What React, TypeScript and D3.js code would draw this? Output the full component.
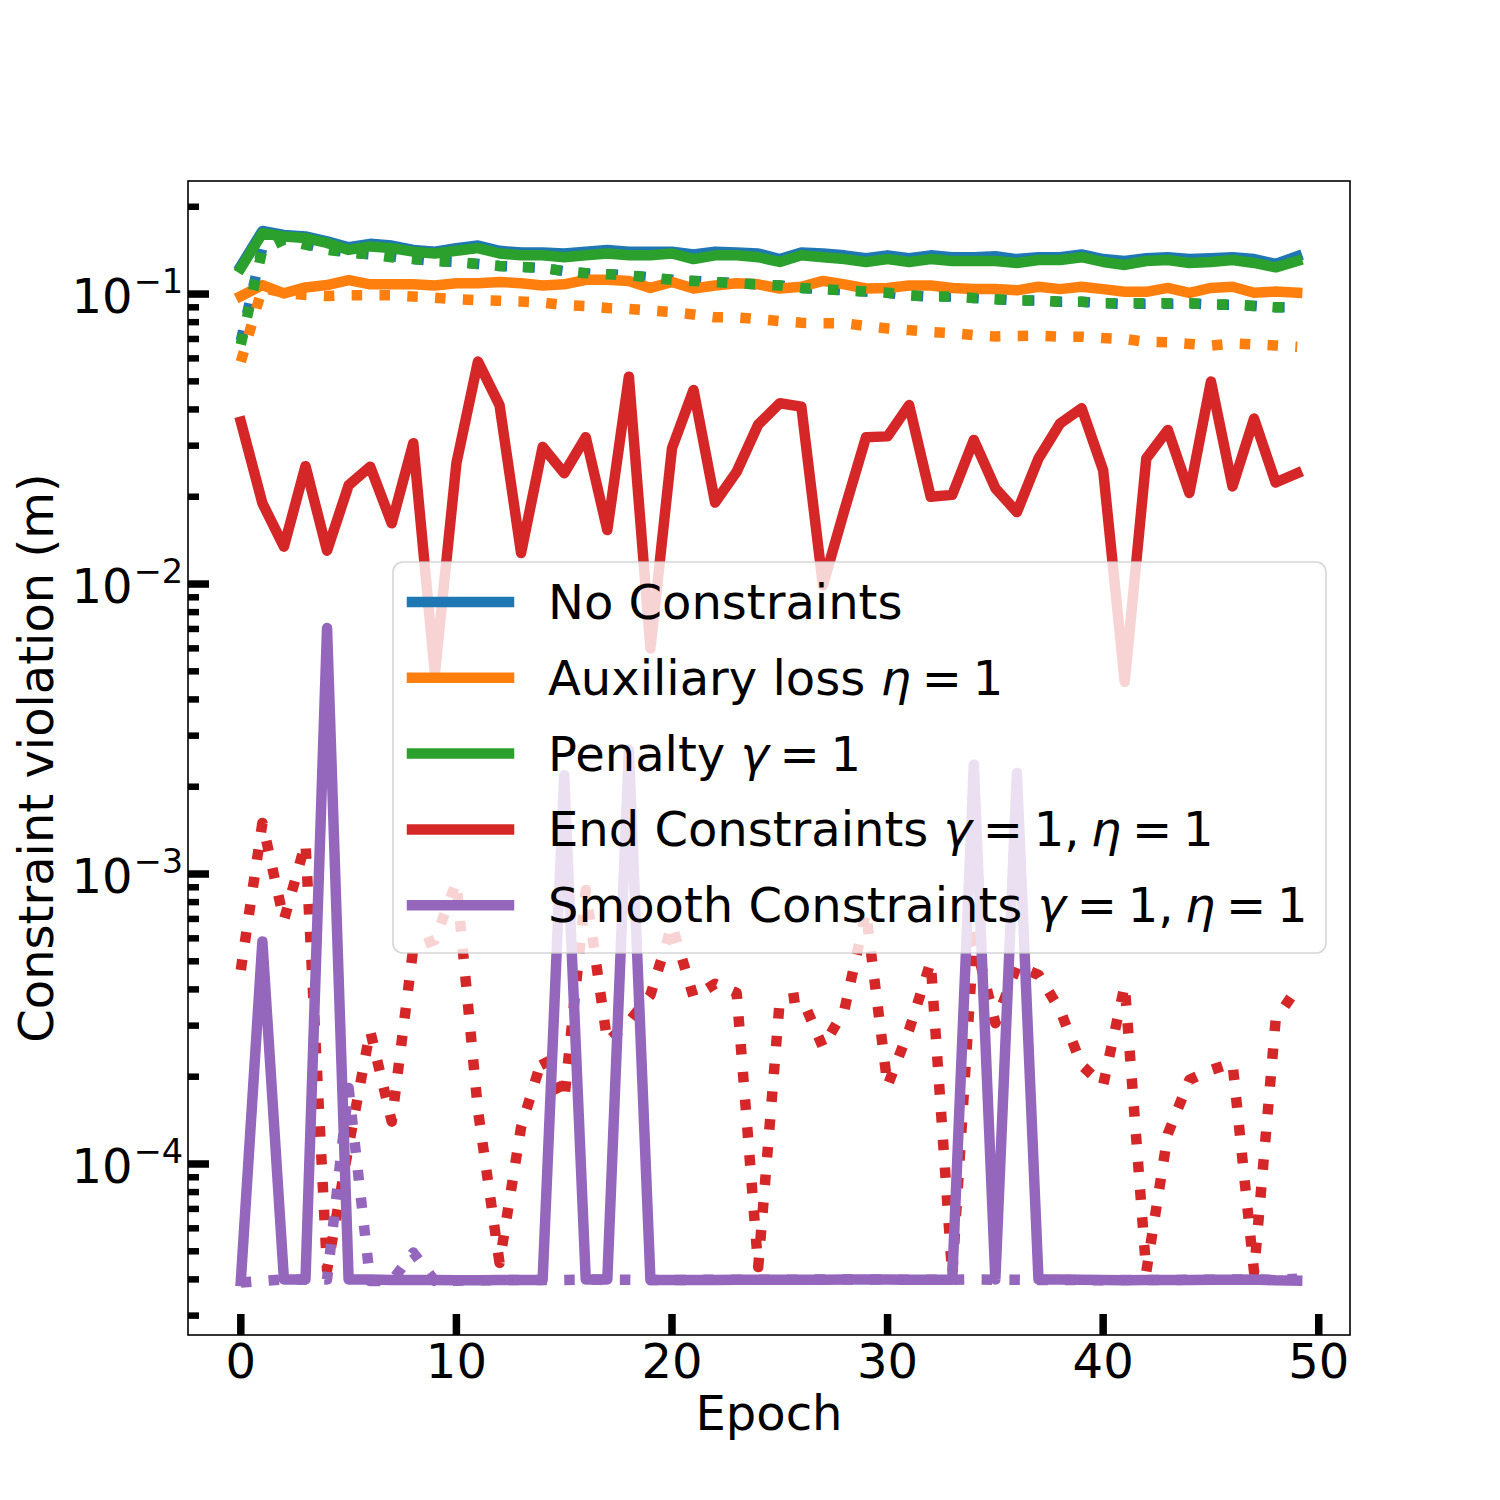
import React from 'react';
import * as d3 from 'd3';

// ---------- data ----------
const epochs: number[] = Array.from({ length: 50 }, (_, i) => i);
const xTickValues = [0, 10, 20, 30, 40, 50];
const yMajorExponents = [-1, -2, -3, -4];

const noConstraintsSolid = [0.125, 0.165, 0.160, 0.158, 0.152, 0.145, 0.149, 0.147, 0.142, 0.140, 0.144, 0.147, 0.141, 0.139, 0.139, 0.138, 0.140, 0.142, 0.140, 0.140, 0.140, 0.137, 0.140, 0.139, 0.138, 0.132, 0.139, 0.138, 0.136, 0.133, 0.136, 0.133, 0.136, 0.134, 0.134, 0.135, 0.132, 0.134, 0.134, 0.137, 0.132, 0.130, 0.133, 0.134, 0.132, 0.133, 0.134, 0.132, 0.127, 0.135];
const noConstraintsDotted = [0.069, 0.145, 0.155, 0.149, 0.143, 0.139, 0.137, 0.135, 0.132, 0.130, 0.129, 0.127, 0.125, 0.124, 0.123, 0.120, 0.118, 0.117, 0.116, 0.114, 0.112, 0.111, 0.110, 0.109, 0.108, 0.107, 0.105, 0.104, 0.103, 0.102, 0.101, 0.099, 0.098, 0.098, 0.097, 0.096, 0.095, 0.095, 0.094, 0.094, 0.093, 0.0925, 0.0925, 0.0925, 0.0928, 0.092, 0.0918, 0.091, 0.090, 0.090];
const auxSolid = [0.0984, 0.1074, 0.1005, 0.1054, 0.1074, 0.1117, 0.108, 0.108, 0.108, 0.107, 0.109, 0.109, 0.110, 0.109, 0.107, 0.108, 0.112, 0.112, 0.111, 0.105, 0.110, 0.1045, 0.107, 0.109, 0.108, 0.1045, 0.106, 0.111, 0.108, 0.1045, 0.105, 0.107, 0.107, 0.105, 0.104, 0.104, 0.103, 0.106, 0.104, 0.106, 0.104, 0.1018, 0.1018, 0.105, 0.101, 0.105, 0.106, 0.101, 0.102, 0.101];
const auxDotted = [0.0584, 0.105, 0.101, 0.0992, 0.0984, 0.099, 0.099, 0.099, 0.098, 0.0972, 0.096, 0.0953, 0.0948, 0.0942, 0.0935, 0.0916, 0.0909, 0.0895, 0.0888, 0.0877, 0.0866, 0.085, 0.0831, 0.0831, 0.082, 0.0807, 0.0796, 0.0793, 0.0793, 0.0776, 0.0761, 0.0751, 0.074, 0.0734, 0.0722, 0.0714, 0.0717, 0.0718, 0.0713, 0.0713, 0.0705, 0.07, 0.0684, 0.0682, 0.0673, 0.0664, 0.0676, 0.0671, 0.0665, 0.0658];
const penaltySolid = [0.123, 0.162, 0.158, 0.156, 0.150, 0.142, 0.146, 0.144, 0.140, 0.138, 0.141, 0.144, 0.138, 0.136, 0.136, 0.134, 0.136, 0.138, 0.136, 0.136, 0.138, 0.132, 0.136, 0.136, 0.134, 0.129, 0.136, 0.134, 0.132, 0.129, 0.132, 0.129, 0.132, 0.130, 0.130, 0.130, 0.128, 0.131, 0.131, 0.134, 0.129, 0.126, 0.130, 0.131, 0.128, 0.129, 0.131, 0.128, 0.1236, 0.130];
const penaltyDotted = [0.067, 0.142, 0.154, 0.148, 0.142, 0.139, 0.137, 0.134, 0.132, 0.130, 0.129, 0.127, 0.125, 0.124, 0.123, 0.120, 0.118, 0.117, 0.116, 0.114, 0.112, 0.111, 0.110, 0.109, 0.108, 0.107, 0.105, 0.104, 0.103, 0.102, 0.101, 0.099, 0.098, 0.098, 0.097, 0.096, 0.095, 0.095, 0.094, 0.094, 0.093, 0.093, 0.093, 0.093, 0.093, 0.092, 0.092, 0.091, 0.090, 0.090];
const endSolid = [0.0363, 0.0190, 0.01346, 0.0255, 0.01303, 0.0219, 0.0254, 0.0162, 0.0306, 0.0049, 0.0261, 0.0585, 0.0414, 0.0128, 0.0297, 0.0241, 0.0321, 0.01535, 0.0519, 0.0060, 0.0294, 0.0467, 0.0191, 0.0244, 0.0355, 0.0420, 0.0409, 0.0099, 0.0180, 0.0321, 0.0323, 0.0414, 0.0200, 0.0203, 0.0314, 0.0214, 0.0177, 0.0271, 0.0358, 0.0404, 0.0247, 0.0046, 0.0271, 0.0340, 0.0206, 0.0499, 0.0217, 0.0372, 0.0224, 0.0241];
const endDotted = [4.67e-4, 1.50e-3, 6.93e-4, 1.28e-3, 4.31e-5, 1.15e-4, 2.88e-4, 1.40e-4, 5.56e-4, 5.92e-4, 9.38e-4, 1.53e-4, 4.56e-5, 1.34e-4, 2.34e-4, 1.66e-4, 8.81e-4, 2.64e-4, 3.09e-4, 3.83e-4, 6.67e-4, 3.77e-4, 4.18e-4, 3.89e-4, 4.41e-5, 3.68e-4, 3.77e-4, 2.53e-4, 3.40e-4, 7.40e-4, 1.86e-4, 2.90e-4, 4.98e-4, 4.14e-5, 6.07e-4, 3.06e-4, 4.82e-4, 4.49e-4, 3.40e-4, 2.19e-4, 1.87e-4, 4.14e-4, 4.24e-5, 1.27e-4, 1.95e-4, 2.11e-4, 2.23e-4, 4.24e-5, 3.14e-4, 4.05e-4];
const smoothSolid = [3.95e-5, 5.85e-4, 4.0e-5, 4.0e-5, 7.05e-3, 4.0e-5, 4.0e-5, 3.98e-5, 3.98e-5, 3.98e-5, 3.97e-5, 3.97e-5, 3.98e-5, 3.98e-5, 3.98e-5, 2.19e-3, 4.0e-5, 4.0e-5, 2.68e-3, 3.98e-5, 3.98e-5, 3.98e-5, 3.98e-5, 3.99e-5, 3.99e-5, 3.99e-5, 3.99e-5, 3.99e-5, 4.0e-5, 4.0e-5, 4.0e-5, 3.99e-5, 3.99e-5, 3.99e-5, 2.38e-3, 4.0e-5, 2.23e-3, 4.0e-5, 4.0e-5, 3.99e-5, 3.98e-5, 3.97e-5, 3.98e-5, 3.98e-5, 3.98e-5, 3.99e-5, 3.99e-5, 4.0e-5, 3.97e-5, 3.96e-5];
const smoothDotted = [3.9e-5, 3.95e-5, 4.0e-5, 4.0e-5, 4.0e-5, 1.83e-4, 3.95e-5, 3.95e-5, 4.95e-5, 3.95e-5, 3.96e-5, 3.97e-5, 3.98e-5, 3.98e-5, 3.98e-5, 3.98e-5, 3.99e-5, 3.99e-5, 3.99e-5, 3.98e-5, 3.98e-5, 3.98e-5, 3.99e-5, 3.99e-5, 3.99e-5, 3.99e-5, 3.99e-5, 4.0e-5, 4.0e-5, 4.0e-5, 3.99e-5, 3.99e-5, 3.99e-5, 3.99e-5, 4.0e-5, 3.99e-5, 3.99e-5, 3.98e-5, 3.98e-5, 3.98e-5, 3.97e-5, 3.98e-5, 3.98e-5, 3.98e-5, 3.99e-5, 3.99e-5, 4.0e-5, 4.0e-5, 3.98e-5, 4.02e-5];

const seriesNames = ['No Constraints', 'Auxiliary loss', 'Penalty', 'End Constraints', 'Smooth Constraints'];
const seriesColors = ['#1f77b4', '#ff7f0e', '#2ca02c', '#d62728', '#9467bd'];

// ---------- layout ----------
const W = 1500;
const H = 1500;
const plotLeft = 188;
const plotRight = 1350;
const plotTop = 181;
const plotBottom = 1335;
const xDomain: [number, number] = [-2.45, 51.45];
const yDomain: [number, number] = [2.572e-5, 0.2454];
const LW = 10.5;
const FONT = "'DejaVu Sans', sans-serif";
const FS = 48;
const REL = -4.5; // tighter math spacing around relations

export default function App() {
  const x = d3.scaleLinear().domain(xDomain).range([plotLeft, plotRight]);
  const y = d3.scaleLog().domain(yDomain).range([plotBottom, plotTop]);
  const line = d3
    .line<number>()
    .x((_, i) => x(epochs[i]))
    .y((d) => y(d));

  const solids = [noConstraintsSolid, auxSolid, penaltySolid, endSolid, smoothSolid];
  const dotteds = [noConstraintsDotted, auxDotted, penaltyDotted, endDotted, smoothDotted];

  const minorTicks: number[] = [];
  for (let e = -6; e <= 0; e++) {
    for (let k = 2; k <= 9; k++) {
      const v = k * Math.pow(10, e);
      if (v > yDomain[0] && v < yDomain[1]) minorTicks.push(v);
    }
  }

  const legendX = 393;
  const legendY = 562;
  const legendW = 933;
  const legendH = 391;
  const rowStart = 602;
  const rowStep = 75.8;

  const italic = { fontStyle: 'italic' as const };
  const eq = (sym: string) => (
    <>
      <tspan style={italic}>{sym}</tspan> <tspan dx={REL}>=</tspan> <tspan dx={REL}>1</tspan>
    </>
  );
  const legendLabels: React.ReactNode[] = [
    <>No Constraints</>,
    <>Auxiliary loss {eq('η')}</>,
    <>Penalty {eq('γ')}</>,
    <>
      End Constraints {eq('γ')},<tspan dx={-4}> </tspan>
      {eq('η')}
    </>,
    <>
      Smooth Constraints {eq('γ')},<tspan dx={-4}> </tspan>
      {eq('η')}
    </>,
  ];

  return (
    <svg
      width={W}
      height={H}
      viewBox={`0 0 ${W} ${H}`}
      style={{ position: 'absolute', left: 0, top: 0, background: '#ffffff' }}
      fontFamily={FONT}
    >
      <rect x={0} y={0} width={W} height={H} fill="#ffffff" />
      <defs>
        <clipPath id="plotClip">
          <rect x={plotLeft} y={plotTop} width={plotRight - plotLeft} height={plotBottom - plotTop} />
        </clipPath>
      </defs>

      <g clipPath="url(#plotClip)">
        {seriesNames.map((name, s) => (
          <g key={name}>
            <path
              d={line(solids[s]) || ''}
              fill="none"
              stroke={seriesColors[s]}
              strokeWidth={LW}
              strokeLinejoin="round"
              strokeLinecap="square"
            />
            <path
              d={line(dotteds[s]) || ''}
              fill="none"
              stroke={seriesColors[s]}
              strokeWidth={LW}
              strokeLinejoin="round"
              strokeLinecap="butt"
              strokeDasharray={`${LW} ${LW * 1.65}`}
            />
          </g>
        ))}
      </g>

      {/* frame */}
      <rect
        x={plotLeft}
        y={plotTop}
        width={plotRight - plotLeft}
        height={plotBottom - plotTop}
        fill="none"
        stroke="#000"
        strokeWidth={1.6}
      />

      {/* y ticks */}
      {minorTicks.map((v) => (
        <line key={'m' + v} x1={plotLeft} x2={plotLeft + 11} y1={y(v)} y2={y(v)} stroke="#000" strokeWidth={6.5} />
      ))}
      {yMajorExponents.map((e) => {
        const v = Math.pow(10, e);
        const yy = y(v);
        return (
          <g key={'M' + e}>
            <line x1={plotLeft} x2={plotLeft + 21} y1={yy} y2={yy} stroke="#000" strokeWidth={7.5} />
            <text x={183} y={yy + 19} textAnchor="end" fontSize={FS} fill="#000">
              10
              <tspan fontSize={FS * 0.7} dx={1} dy={-20}>
                {'\u2212' + Math.abs(e)}
              </tspan>
            </text>
          </g>
        );
      })}

      {/* x ticks */}
      {xTickValues.map((v) => (
        <g key={'x' + v}>
          <line x1={x(v)} x2={x(v)} y1={plotBottom} y2={plotBottom - 21} stroke="#000" strokeWidth={7.5} />
          <text x={x(v)} y={1378} textAnchor="middle" fontSize={FS} fill="#000">
            {v}
          </text>
        </g>
      ))}

      {/* axis labels */}
      <text x={(plotLeft + plotRight) / 2} y={1430} textAnchor="middle" fontSize={FS} fill="#000">
        Epoch
      </text>
      <text
        transform={`translate(53, ${(plotTop + plotBottom) / 2}) rotate(-90)`}
        textAnchor="middle"
        fontSize={FS}
        fill="#000"
      >
        Constraint violation (m)
      </text>

      {/* legend */}
      <g>
        <rect
          x={legendX}
          y={legendY}
          width={legendW}
          height={legendH}
          rx={10}
          ry={10}
          fill="#ffffff"
          fillOpacity={0.8}
          stroke="#cccccc"
          strokeOpacity={0.8}
          strokeWidth={1.6}
        />
        {seriesNames.map((name, s) => {
          const ry = rowStart + s * rowStep;
          return (
            <g key={'leg' + name}>
              <line
                x1={412}
                x2={509}
                y1={ry}
                y2={ry}
                stroke={seriesColors[s]}
                strokeWidth={LW}
                strokeLinecap="square"
              />
              <text x={548} y={ry + 17} fontSize={FS} fill="#000">
                {legendLabels[s]}
              </text>
            </g>
          );
        })}
      </g>
    </svg>
  );
}
